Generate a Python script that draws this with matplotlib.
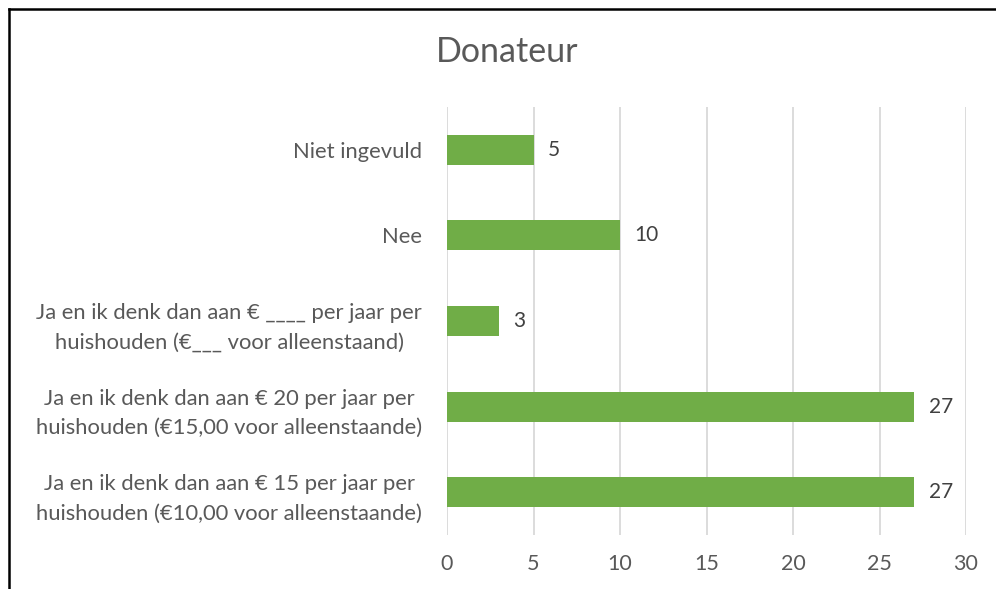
import matplotlib

matplotlib.use("Agg")
import matplotlib.pyplot as plt
from matplotlib.lines import Line2D

categories = [
    "Niet ingevuld",
    "Nee",
    "Ja en ik denk dan aan € ____ per jaar per\nhuishouden (€___ voor alleenstaand)",
    "Ja en ik denk dan aan € 20 per jaar per\nhuishouden (€15,00 voor alleenstaande)",
    "Ja en ik denk dan aan € 15 per jaar per\nhuishouden (€10,00 voor alleenstaande)",
]
values = [5, 10, 3, 27, 27]
xticks = [0, 5, 10, 15, 20, 25, 30]

GREEN = "#70ad47"
TEXT = "#595959"
GRID = "#d9d9d9"

plt.rcParams["font.family"] = ["Lato", "DejaVu Sans"]

W, H = 996, 589
fig = plt.figure(figsize=(W / 100, H / 100), dpi=100)
ax = fig.add_axes([447 / W, 1 - 535 / H, 519 / W, 428 / H])

pos = list(range(len(categories)))
bars = ax.barh(pos, values, height=0.35, color=GREEN, zorder=3)
ax.set_ylim(len(categories) - 0.5, -0.5)
ax.set_xlim(0, 30)
ax.set_xticks(xticks)
ax.set_yticks(pos)
ax.set_yticklabels(categories, fontsize=15.8, color=TEXT, linespacing=1.6,
                   ha="right", multialignment="center")
ax.tick_params(axis="y", length=0, pad=18)
ax.tick_params(axis="x", length=0, labelsize=15.5, labelcolor=TEXT, pad=14)
ax.grid(axis="x", color=GRID, lw=1.3, zorder=0)
for s in ax.spines.values():
    s.set_visible(False)

for rect, v in zip(bars, values):
    ax.annotate(str(v), (rect.get_width(), rect.get_y() + rect.get_height() / 2),
                xytext=(10.5, 0), textcoords="offset points", ha="left",
                va="center", fontsize=15, color="#404040")

fig.text(507 / W, 1 - 52 / H, "Donateur", ha="center", va="center",
         fontsize=24.5, color=TEXT)

# frame edge visible at left and top of the reference
fig.add_artist(Line2D([9 / W, 9 / W], [0, 1 - 8.5 / H], color="black", lw=1.8,
                      transform=fig.transFigure))
fig.add_artist(Line2D([9 / W, 1], [1 - 8.5 / H, 1 - 8.5 / H], color="black",
                      lw=1.8, transform=fig.transFigure))

fig.savefig("out.png", dpi=100)
